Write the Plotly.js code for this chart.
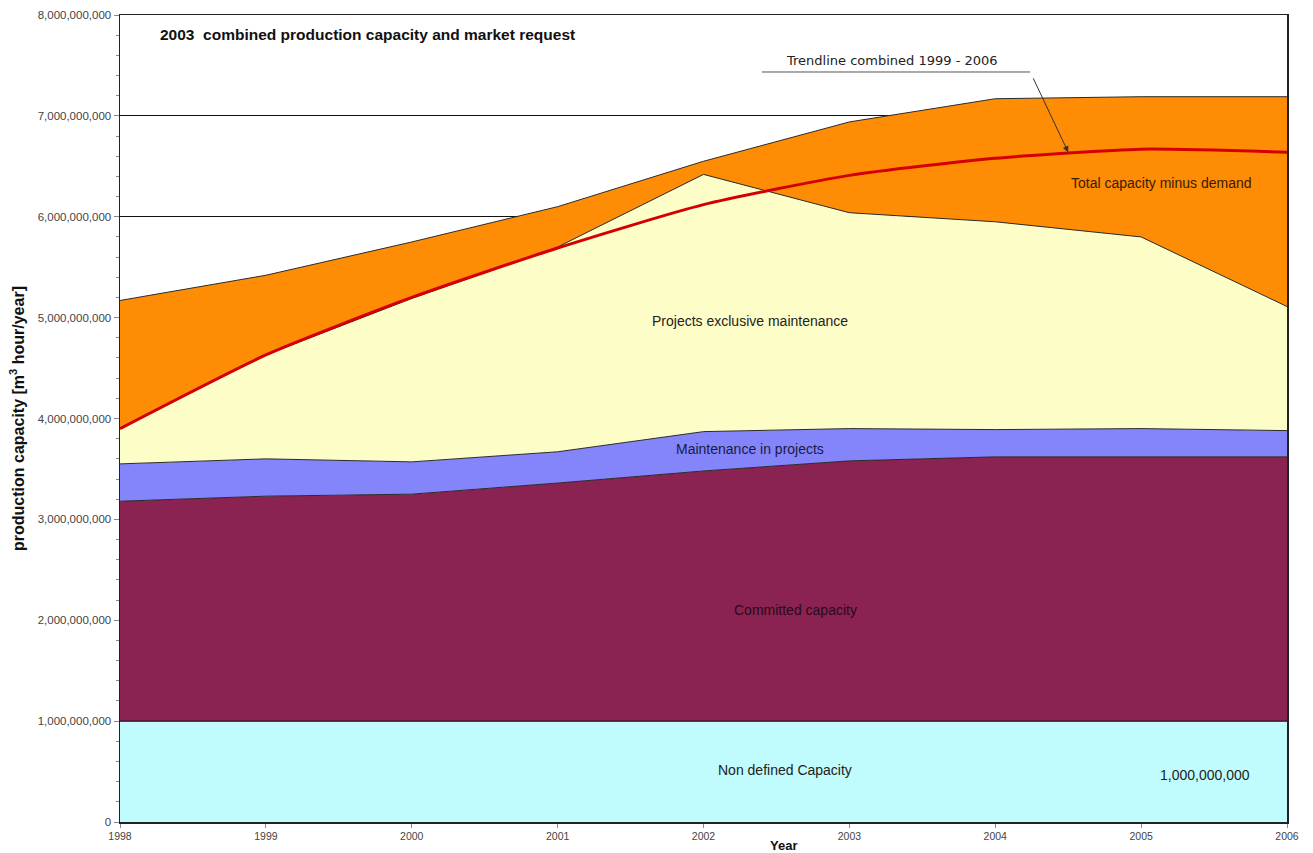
<!DOCTYPE html>
<html>
<head>
<meta charset="utf-8">
<script src="https://cdn.plot.ly/plotly-3.0.1.min.js"></script>
<style>html,body{margin:0;padding:0;background:#fff;}#chart{width:1313px;height:853px;}</style>
</head>
<body>
<div id="chart"></div>
<script>
// Data (cumulative boundary of each stacked layer, m3 hour/year)
const years = [1998, 1999, 2000, 2001, 2002, 2003, 2004, 2005, 2006];
const nonDefinedTop = [1.0e9, 1.0e9, 1.0e9, 1.0e9, 1.0e9, 1.0e9, 1.0e9, 1.0e9, 1.0e9];
const committedTop = [3.18e9, 3.23e9, 3.25e9, 3.36e9, 3.48e9, 3.58e9, 3.62e9, 3.62e9, 3.62e9];
const maintenanceTop = [3.55e9, 3.60e9, 3.57e9, 3.67e9, 3.87e9, 3.90e9, 3.89e9, 3.90e9, 3.88e9];
const projectsTop = [3.90e9, 4.63e9, 5.19e9, 5.70e9, 6.42e9, 6.04e9, 5.95e9, 5.80e9, 5.11e9];
const totalTop = [5.17e9, 5.42e9, 5.75e9, 6.10e9, 6.55e9, 6.94e9, 7.17e9, 7.19e9, 7.19e9];
const trendline = [3.90e9, 4.63e9, 5.20e9, 5.69e9, 6.12e9, 6.41e9, 6.58e9, 6.67e9, 6.64e9];
const yTickVals = [0, 1e9, 2e9, 3e9, 4e9, 5e9, 6e9, 7e9, 8e9];
const yTickText = ['0', '1,000,000,000', '2,000,000,000', '3,000,000,000', '4,000,000,000',
  '5,000,000,000', '6,000,000,000', '7,000,000,000', '8,000,000,000'];

const FONT = 'Liberation Sans, Arial, sans-serif';
const edge = {color: '#2a2a2a', width: 1};

const traces = [
  {x: years, y: nonDefinedTop, type: 'scatter', mode: 'lines', fill: 'tozeroy',
   fillcolor: '#c0fcfd', line: {color: '#111', width: 1}, name: 'Non defined Capacity'},
  {x: years, y: committedTop, type: 'scatter', mode: 'lines', fill: 'tonexty',
   fillcolor: '#8a2252', line: edge, name: 'Committed capacity'},
  {x: years, y: maintenanceTop, type: 'scatter', mode: 'lines', fill: 'tonexty',
   fillcolor: '#8585fb', line: edge, name: 'Maintenance in projects'},
  {x: years, y: projectsTop, type: 'scatter', mode: 'lines', fill: 'tonexty',
   fillcolor: '#fdfdc8', line: edge, name: 'Projects exclusive maintenance'},
  {x: years, y: totalTop, type: 'scatter', mode: 'lines', fill: 'tonexty',
   fillcolor: '#ff8c05', line: edge, name: 'Total capacity minus demand'},
  {x: years, y: trendline, type: 'scatter', mode: 'lines',
   line: {color: '#d40000', width: 3, shape: 'spline', smoothing: 0.6}, name: 'Trendline combined 1999 - 2006'}
];

const lbl = (x, y, text, extra) => Object.assign({
  x: x, y: y, xref: 'x', yref: 'y', text: text, showarrow: false,
  font: {family: FONT, size: 14, color: '#222'}
}, extra || {});

const layout = {
  width: 1313, height: 853,
  margin: {l: 120, r: 26, t: 15, b: 31},
  paper_bgcolor: '#fff', plot_bgcolor: '#fff',
  showlegend: false,
  title: {text: '<b>2003  combined production capacity and market request</b>',
    x: 160 / 1313, xanchor: 'left', y: 1 - 35 / 853, yanchor: 'middle',
    font: {family: FONT, size: 15.5, color: '#111'}},
  xaxis: {range: [1998, 2006], tickvals: years, ticktext: years.map(String),
    ticks: 'outside', ticklen: 4, tickcolor: '#888', showgrid: false, zeroline: false,
    showline: true, linecolor: '#222', linewidth: 1.5, mirror: true,
    tickfont: {family: FONT, size: 10.5, color: '#444'}},
  yaxis: {range: [0, 8e9], tickvals: yTickVals, ticktext: yTickText,
    ticks: 'outside', ticklen: 5, tickcolor: '#888',
    minor: {dtick: 2e8, ticks: 'outside', ticklen: 3, tickcolor: '#888', showgrid: false},
    showgrid: true, gridcolor: '#111', gridwidth: 1, zeroline: false,
    showline: true, linecolor: '#222', linewidth: 1.5, mirror: true,
    tickfont: {family: FONT, size: 11.5, color: '#444'},
    title: {text: '<b>production capacity [m<sup>3</sup> hour/year]</b>', standoff: 9,
      font: {family: FONT, size: 16, color: '#111'}}},
  shapes: [
    {type: 'line', xref: 'x', yref: 'y', x0: 2002.40, x1: 2004.24, y0: 7.435e9, y1: 7.435e9,
     line: {color: '#555', width: 1}}
  ],
  annotations: [
    lbl(2003.29, 7.55e9, 'Trendline combined 1999 - 2006', {font: {family: 'DejaVu Sans, sans-serif', size: 13, color: '#222'}}),
    {x: 2004.5, y: 6.64e9, xref: 'x', yref: 'y', ax: 2004.24, ay: 7.435e9, axref: 'x', ayref: 'y',
     text: ' ', showarrow: true, arrowhead: 2, arrowsize: 1.2, arrowwidth: 1, arrowcolor: '#333'},
    lbl(2002.32, 4.97e9, 'Projects exclusive maintenance'),
    lbl(2002.32, 3.70e9, 'Maintenance in projects', {font: {family: FONT, size: 14, color: '#1a1a40'}}),
    lbl(2002.63, 2.10e9, 'Committed capacity', {font: {family: FONT, size: 14, color: '#2a0a18'}}),
    lbl(2002.56, 0.515e9, 'Non defined Capacity'),
    lbl(2005.44, 0.466e9, '1,000,000,000'),
    lbl(2005.14, 6.33e9, 'Total capacity minus demand', {font: {family: FONT, size: 14, color: '#3a1a00'}}),
    {x: (783 - 120) / 1167, y: 0, xref: 'paper', yref: 'paper', yshift: -33, text: '<b>Year</b>',
     showarrow: false, font: {family: FONT, size: 13, color: '#111'}}
  ]
};

Plotly.newPlot('chart', traces, layout, {displayModeBar: false, staticPlot: true});
</script>
</body>
</html>
